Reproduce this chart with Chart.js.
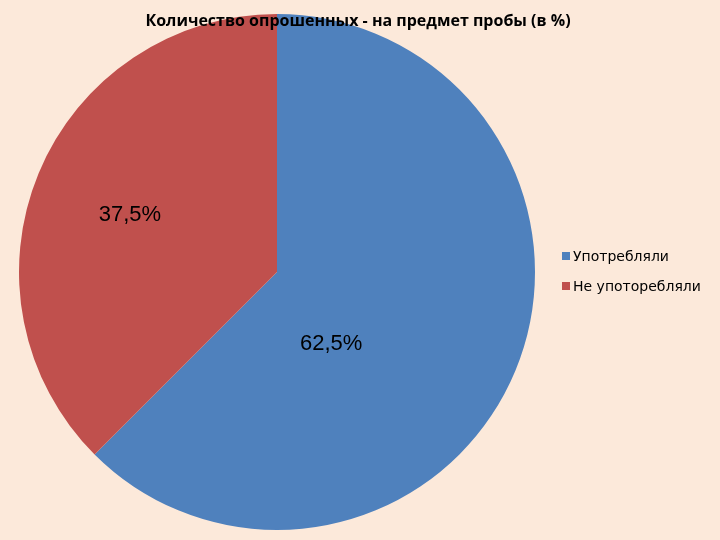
<!DOCTYPE html>
<html lang="ru">
<head>
<meta charset="UTF-8">
<title>Pie</title>
<script src="https://cdn.jsdelivr.net/npm/chart.js"></script>
<style>
  body { margin: 0; background: #fce9da; }
  #wrap { position: relative; width: 720px; height: 540px; }
  #title { position: absolute; top: 9px; left: 0; width: 720px; text-align: center;
           font: bold 16px "Open Sans", sans-serif; color: #000; margin-left: -2px; z-index: 2; }
  #legend { position: absolute; left: 562px; top: 241px; font: 14px "DejaVu Sans", sans-serif; color: #000; }
  #legend div { height: 30px; display: flex; align-items: center; }
  #legend span.sw { display: inline-block; width: 8px; height: 8px; margin-right: 3px; }
</style>
</head>
<body>
<div id="wrap">
  <div id="title">Количество опрошенных - на предмет пробы (в %)</div>
  <canvas id="c" width="720" height="540"></canvas>
  <div id="legend"></div>
</div>
<script>
  // données
  const labels = ['Употребляли', 'Не употоребляли'];
  const values = [62.5, 37.5];
  const colors = ['#4f81bd', '#c0504d'];
  const labelOffsets = [[0.21, 0.28], [-0.57, -0.22]];

  const leg = document.getElementById('legend');
  labels.forEach((l, i) => {
    leg.innerHTML += `<div><span class="sw" style="background:${colors[i]}"></span>${l}</div>`;
  });

  const valueLabels = {
    id: 'valueLabels',
    afterDatasetsDraw(chart) {
      const ctx = chart.ctx;
      chart.getDatasetMeta(0).data.forEach((arc, i) => {
        const r = arc.outerRadius;
        ctx.save();
        ctx.font = '22px "Liberation Sans", Arial, sans-serif';
        ctx.fillStyle = '#000';
        ctx.textAlign = 'center';
        ctx.textBaseline = 'middle';
        ctx.fillText(values[i].toFixed(1).replace('.', ',') + '%',
          arc.x + r * labelOffsets[i][0], arc.y + r * labelOffsets[i][1]);
        ctx.restore();
      });
    }
  };

  new Chart(document.getElementById('c'), {
    type: 'pie',
    data: { labels: labels, datasets: [{ data: values, backgroundColor: colors, borderWidth: 0 }] },
    options: {
      responsive: false,
      animation: false,
      layout: { padding: { left: 19, top: 14, right: 185, bottom: 10 } },
      plugins: { legend: { display: false }, tooltip: { enabled: false } }
    },
    plugins: [valueLabels]
  });
</script>
</body>
</html>
